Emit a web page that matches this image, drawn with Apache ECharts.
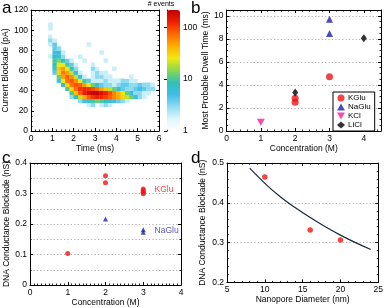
<!DOCTYPE html>
<html><head><meta charset="utf-8">
<script src="https://cdn.jsdelivr.net/npm/echarts@6/dist/echarts.min.js"></script>
<style>html,body{margin:0;padding:0;background:#fff}#c{width:386px;height:308px}</style>
</head><body><div id="c"></div><script>
// ---------------- DATA ----------------
// Panel a: 2D histogram (counts). Bins: 0.2 ms x 4 pA. Rows from 24 pA upward.
const heatBinWidthMs = 0.2;
const heatBinHeightPA = 4;
const heatFirstRowPA = 24;
const heatCounts = [
 [0,0,0,0,0,0,0,0,0,0,0,0,0,2,3,0,2,3,2,0,0,0,0,0,0,0,0,0,0,0], // 24-28
 [0,0,0,0,0,0,0,0,0,0,0,3,5,6,10,12,10,8,6,5,4,3,2,0,0,0,0,0,0,0], // 28-32
 [0,0,0,0,0,0,0,0,0,3,8,20,45,80,110,130,120,100,80,60,45,30,20,12,6,3,2,0,0,0], // 32-36
 [0,0,0,0,0,0,0,0,0,10,35,80,130,170,200,200,170,130,90,60,40,25,12,6,3,3,2,2,0,0], // 36-40
 [0,0,0,0,0,0,0,0,10,30,70,110,120,110,90,70,50,35,20,12,7,4,3,3,4,5,4,3,3,0], // 40-44
 [0,0,0,0,0,0,0,8,30,70,90,80,50,25,12,7,4,3,3,2,3,4,4,3,3,4,3,3,2,0], // 44-48
 [0,0,0,0,0,0,5,25,70,85,55,25,10,4,2,2,2,3,2,2,2,3,3,2,2,1,0,0,0,0], // 48-52
 [0,0,0,0,0,0,12,50,80,55,20,6,2,0,2,3,3,2,2,0,0,0,1,2,1,0,0,0,0,0], // 52-56
 [0,0,0,0,0,4,30,65,50,20,7,2,0,0,2,3,2,2,0,0,1,0,0,0,0,0,0,0,0,0], // 56-60
 [0,0,0,0,0,6,35,50,25,9,3,0,0,1,3,2,1,0,0,2,0,0,0,0,0,0,0,0,0,0], // 60-64
 [0,0,0,0,0,8,25,25,10,4,2,1,0,0,2,1,0,0,1,0,0,0,0,0,0,0,0,0,0,0], // 64-68
 [0,0,0,0,0,10,14,8,4,2,1,0,2,0,0,0,0,2,0,1,0,0,0,0,0,0,0,0,0,0], // 68-72
 [0,0,0,0,2,8,6,3,1,0,1,2,0,0,0,0,0,0,0,0,0,0,0,0,0,0,0,0,0,0], // 72-76
 [0,0,0,0,0,5,6,2,0,0,0,0,0,0,0,0,2,0,0,0,0,0,0,0,0,0,0,0,0,0], // 76-80
 [0,0,0,0,0,4,3,0,0,0,0,0,0,0,0,0,0,0,0,0,0,0,0,0,0,0,0,0,0,0], // 80-84
 [0,0,0,0,2,4,0,0,0,0,0,0,0,2,0,0,0,0,0,0,0,0,0,0,0,0,0,0,0,0], // 84-88
 [0,0,0,0,3,2,0,0,0,0,0,0,0,0,0,0,0,0,0,0,0,0,0,0,0,0,0,0,0,0], // 88-92
 [0,0,0,0,2,1,0,0,0,0,0,0,0,0,0,0,0,0,0,0,0,0,0,0,0,0,0,0,0,0], // 92-96
 [0,0,0,0,1,0,0,0,0,0,0,0,0,0,0,0,0,0,0,0,0,0,0,0,0,0,0,0,0,0], // 96-100
 [0,0,0,0,2,0,0,0,0,0,0,0,0,0,0,0,0,0,0,0,0,0,0,0,0,0,0,0,0,0], // 100-104
 [0,0,0,0,2,0,0,0,0,0,0,0,0,0,0,0,0,0,0,0,0,0,0,0,0,0,0,0,0,0], // 104-108
 [0,0,0,0,1,0,0,0,0,0,0,0,0,0,0,0,0,0,0,0,0,0,0,0,0,0,0,0,0,0]  // 108-112
];
const heatMaxCount = 215;

// Panel b: most probable dwell time (ms) vs concentration (M)
const bKGlu  = [[2, 2.5], [2, 2.85], [3, 4.7]];
const bNaGlu = [[3, 9.7], [3, 8.45]];
const bKCl   = [[1, 0.75]];
const bLiCl  = [[2, 3.35], [4, 8.05]];

// Panel c: DNA conductance blockade (nS) vs concentration (M)
const cKGlu  = [[1, 0.103], [2, 0.358], [2, 0.335], [3, 0.315], [3, 0.309], [3, 0.304], [3, 0.299]];
const cNaGlu = [[2, 0.216], [3, 0.181], [3, 0.173]];
const cLabels = [{name: 'KGlu', at: [3.3, 0.313]}, {name: 'NaGlu', at: [3.3, 0.178]}];

// Panel d: DNA conductance blockade (nS) vs nanopore diameter (nm)
const dPoints = [[10, 0.465], [16, 0.332], [20, 0.307]];
const dFit = [[8, 0.487], [10, 0.449], [12, 0.416], [14, 0.388], [16, 0.363], [18, 0.340], [20, 0.319], [22, 0.300], [24, 0.283]];

// ---------------- CHART ----------------
const FONT = 'Liberation Sans, Arial, sans-serif';
const heatData = [];
heatCounts.forEach((row, r) => row.forEach((v, j) => {
  if (v > 0) heatData.push([j * heatBinWidthMs, heatFirstRowPA + r * heatBinHeightPA, Math.log10(v)]);
}));

const grids = [
  {left: 31, top: 10, width: 128, height: 121},     // a
  {left: 167, top: 10, width: 13, height: 121},     // colorbar
  {left: 226.5, top: 10, width: 154.5, height: 121},// b
  {left: 30, top: 163, width: 151, height: 122},    // c
  {left: 227, top: 163, width: 152.5, height: 119.5}// d
];
grids.forEach(g => { g.containLabel = false; });

const lab = {fontSize: 8.5, color: '#000', fontFamily: FONT, margin: 3};
const nts = {fontSize: 8.5, color: '#000', fontFamily: FONT};
function axPair(kind, g, min, max, interval, minorSplit, name, nameGap, extra) {
  extra = extra || {};
  const base = {
    gridIndex: g, type: 'value', min, max, interval,
    axisLine: {show: true, onZero: false, lineStyle: {color: '#000', width: 1}},
    axisTick: {show: true, inside: true, length: 3, lineStyle: {color: '#000', width: 1}},
    minorTick: {show: minorSplit > 0, splitNumber: minorSplit || 5, length: 1.6, lineStyle: {color: '#000', width: 0.8}},
    splitLine: {show: false}
  };
  const main = Object.assign({}, base, {
    position: kind === 'x' ? 'bottom' : 'left',
    axisLabel: Object.assign({}, lab, extra.axisLabel || {}),
    name, nameLocation: 'middle', nameGap, nameTextStyle: nts,
    splitLine: extra.splitLine || {show: false},
    minorSplitLine: extra.minorSplitLine || {show: false}
  });
  const mirror = Object.assign({}, base, {
    position: kind === 'x' ? 'top' : 'right',
    axisLabel: {show: false}
  });
  return [main, mirror];
}
const dotted = {show: true, lineStyle: {type: [1.2, 2.2], color: '#999', width: 0.8}};

const xAxes = [
  ...axPair('x', 0, 0, 6, 1, 5, 'Time (ms)', 11),
  {gridIndex: 1, type: 'value', min: 0, max: 1, show: false},
  ...axPair('x', 2, 0, 4.5, 1, 5, 'Concentration (M)', 11, {axisLabel: {showMaxLabel: false}}),
  ...axPair('x', 3, 0, 4, 1, 10, 'Concentration (M)', 11),
  ...axPair('x', 4, 5, 25, 5, 5, 'Nanopore Diameter (nm)', 11)
];
const yAxes = [
  ...axPair('y', 0, 0, 120, 20, 4, 'Current Blockade (pA)', 17),
  {gridIndex: 1, type: 'log', logBase: 10, min: 1, max: heatMaxCount, position: 'right',
   axisLine: {show: true, lineStyle: {color: '#000', width: 1}},
   axisTick: {show: true, inside: true, length: 3, lineStyle: {color: '#000'}},
   axisLabel: Object.assign({}, lab, {showMaxLabel: false}), splitLine: {show: false},
   name: '# events', nameLocation: 'end', nameGap: 2, nameTextStyle: {fontSize: 7, color: '#000', fontFamily: FONT, align: 'center', padding: [0, 0, 0, -12]}},
  ...axPair('y', 2, 0, 10.5, 2, 4, 'Most Probable Dwell Time (ms)', 14, {axisLabel: {showMaxLabel: false}, splitLine: dotted}),
  ...axPair('y', 3, 0, 0.4, 0.1, 2, 'DNA Conductance Blockade (nS)', 17, {splitLine: dotted, minorSplitLine: dotted}),
  ...axPair('y', 4, 0.2, 0.5, 0.1, 5, 'DNA Conductance Blockade (nS)', 20, {splitLine: dotted})
];
const idx = {aX: 0, cbX: 2, bX: 3, cX: 5, dX: 7, aY: 0, cbY: 2, bY: 3, cY: 5, dY: 7};
const downTri = 'path://M0,0 L10,0 L5,9 Z';

const option = {
  animation: false,
  backgroundColor: '#fff',
  textStyle: {fontFamily: FONT},
  grid: grids,
  xAxis: xAxes,
  yAxis: yAxes,
  visualMap: {
    type: 'continuous', seriesIndex: 0, dimension: 2, min: 0, max: Math.log10(heatMaxCount),
    calculable: false, orient: 'vertical', left: 167, top: 10, itemWidth: 13, itemHeight: 121,
    padding: 0, text: null, showLabel: false, hoverLink: false,
    inRange: {color: ['#ffffff', '#dff6fb', '#90dcf0', '#40bde8', '#30c0b8', '#88d850', '#f0e810', '#ffb000', '#ff6a00', '#f02000', '#c00000']}
  },
  legend: {
    data: ['KGlu', 'NaGlu', 'KCl', 'LiCl'], orient: 'vertical', left: 333, top: 92,
    itemWidth: 8, itemHeight: 7, itemGap: 1, padding: [2, 4, 2, 4],
    borderColor: '#000', borderWidth: 1, backgroundColor: '#fff',
    textStyle: {fontSize: 8, color: '#000', fontFamily: FONT, padding: [0, 0, 0, -2]}
  },
  series: [
    {
      type: 'custom', xAxisIndex: idx.aX, yAxisIndex: idx.aY, data: heatData,
      renderItem: function (params, api) {
        const x = api.value(0), y = api.value(1);
        const p0 = api.coord([x, y + heatBinHeightPA]);
        const p1 = api.coord([x + heatBinWidthMs, y]);
        return {type: 'rect', shape: {x: p0[0], y: p0[1], width: p1[0] - p0[0] + 0.3, height: p1[1] - p0[1] + 0.3},
                style: {fill: api.visual('color')}};
      },
      z: 1
    },
    {name: 'KGlu', type: 'scatter', xAxisIndex: idx.bX, yAxisIndex: idx.bY, data: bKGlu, symbol: 'circle', symbolSize: 7, itemStyle: {color: '#f01414'}, z: 5},
    {name: 'NaGlu', type: 'scatter', xAxisIndex: idx.bX, yAxisIndex: idx.bY, data: bNaGlu, symbol: 'triangle', symbolSize: 7, itemStyle: {color: '#1f1fa8'}, z: 5},
    {name: 'KCl', type: 'scatter', xAxisIndex: idx.bX, yAxisIndex: idx.bY, data: bKCl, symbol: downTri, symbolSize: [8, 7], itemStyle: {color: '#ff1d8e'}, z: 5},
    {name: 'LiCl', type: 'scatter', xAxisIndex: idx.bX, yAxisIndex: idx.bY, data: bLiCl, symbol: 'diamond', symbolSize: [6, 8], itemStyle: {color: '#000'}, z: 5},
    {name: 'KGlu (c)', type: 'scatter', xAxisIndex: idx.cX, yAxisIndex: idx.cY, data: cKGlu, symbol: 'circle', symbolSize: 5, itemStyle: {color: '#f01414'}, z: 5},
    {name: 'NaGlu (c)', type: 'scatter', xAxisIndex: idx.cX, yAxisIndex: idx.cY, data: cNaGlu, symbol: 'triangle', symbolSize: 5, itemStyle: {color: '#1f1fa8'}, z: 5},
    {name: 'labels (c)', type: 'scatter', xAxisIndex: idx.cX, yAxisIndex: idx.cY, symbolSize: 0, silent: true,
     data: cLabels.map((l, i) => ({value: l.at, name: l.name, label: {show: true, position: 'right', distance: 0, formatter: l.name,
        fontSize: 8.5, fontFamily: FONT, color: i === 0 ? '#f01414' : '#2a2aa0'}}))},
    {name: 'fit (d)', type: 'line', xAxisIndex: idx.dX, yAxisIndex: idx.dY, data: dFit, smooth: 0.4, showSymbol: false, symbol: 'none',
     lineStyle: {color: '#1d2a35', width: 1.2}, z: 4},
    {name: 'points (d)', type: 'scatter', xAxisIndex: idx.dX, yAxisIndex: idx.dY, data: dPoints, symbol: 'circle', symbolSize: 5.5, itemStyle: {color: '#f01414'}, z: 5}
  ],
  graphic: [
    {type: 'text', left: 2, top: 0, style: {text: 'a', fontSize: 17, fontFamily: FONT, fill: '#000'}},
    {type: 'text', left: 191, top: 0, style: {text: 'b', fontSize: 17, fontFamily: FONT, fill: '#000'}},
    {type: 'text', left: 2, top: 150, style: {text: 'c', fontSize: 17, fontFamily: FONT, fill: '#000'}},
    {type: 'text', left: 191, top: 150, style: {text: 'd', fontSize: 17, fontFamily: FONT, fill: '#000'}}
  ]
};
const chart = echarts.init(document.getElementById('c'), null, {renderer: 'canvas'});
chart.setOption(option);
</script></body></html>
